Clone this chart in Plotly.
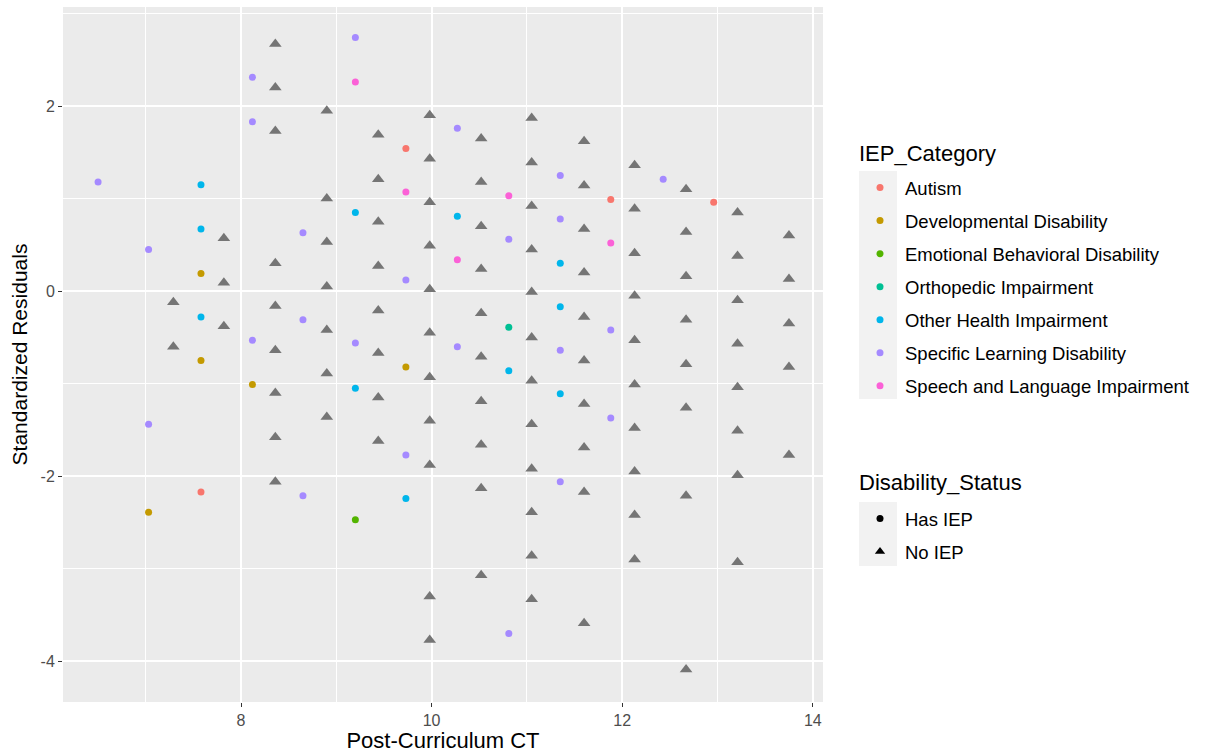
import plotly.graph_objects as go

# ---------------- data ----------------
categories = [
    "Autism", "Developmental Disability", "Emotional Behavioral Disability",
    "Orthopedic Impairment", "Other Health Impairment",
    "Specific Learning Disability", "Speech and Language Impairment",
]
cat_colors = ["#F8766D", "#C49A00", "#53B400", "#00C094", "#00B6EB", "#A58AFF", "#FB61D7"]

autism_x = [9.73, 11.88, 12.96, 7.58]
autism_y = [1.54, 0.99, 0.96, -2.17]

devdis_x = [7.58, 7.58, 8.12, 7.03, 9.73]
devdis_y = [0.19, -0.75, -1.01, -2.39, -0.82]

emot_x = [9.20]
emot_y = [-2.47]

ortho_x = [10.81]
ortho_y = [-0.39]

ohi_x = [7.58, 7.58, 7.58, 9.20, 10.27, 9.20, 10.81, 9.73, 11.35, 11.35, 11.35]
ohi_y = [1.15, 0.67, -0.28, 0.85, 0.81, -1.05, -0.86, -2.24, 0.30, -0.17, -1.11]

sld_x = [6.50, 7.03, 7.03, 8.12, 8.12, 8.12, 8.65, 8.65, 8.65, 9.20, 9.20, 9.73,
         9.73, 10.27, 10.27, 10.81, 10.81, 11.35, 11.35, 11.35, 11.35, 11.88, 11.88, 12.43]
sld_y = [1.18, 0.45, -1.44, 2.31, 1.83, -0.53, 0.63, -0.31, -2.21, 2.74, -0.56, 0.12,
         -1.77, 1.76, -0.60, 0.56, -3.70, 1.25, 0.78, -0.64, -2.06, -0.42, -1.37, 1.21]

sli_x = [9.20, 9.73, 10.81, 10.27, 11.88]
sli_y = [2.26, 1.07, 1.03, 0.34, 0.52]

cat_x = [autism_x, devdis_x, emot_x, ortho_x, ohi_x, sld_x, sli_x]
cat_y = [autism_y, devdis_y, emot_y, ortho_y, ohi_y, sld_y, sli_y]

noiep_x = ([7.29] * 2 + [7.82] * 3 + [8.36] * 9 + [8.90] * 7 + [9.44] * 8 + [9.98] * 11
           + [10.52] * 10 + [11.05] * 12 + [11.60] * 10 + [12.13] * 10 + [12.67] * 8
           + [13.21] * 8 + [13.75] * 5)
noiep_y = [-0.12, -0.60,
           0.57, 0.09, -0.38,
           2.67, 2.20, 1.73, 0.30, -0.16, -0.64, -1.10, -1.58, -2.06,
           1.95, 1.00, 0.53, 0.05, -0.42, -0.89, -1.36,
           1.69, 1.21, 0.75, 0.27, -0.21, -0.67, -1.15, -1.62,
           1.90, 1.43, 0.96, 0.49, 0.02, -0.45, -0.93, -1.40, -1.88, -3.30, -3.77,
           1.65, 1.18, 0.70, 0.24, -0.24, -0.71, -1.19, -1.66, -2.13, -3.07,
           1.87, 1.39, 0.92, 0.45, -0.01, -0.50, -0.97, -1.44, -1.92, -2.39, -2.86, -3.33,
           1.62, 1.14, 0.67, 0.20, -0.28, -0.75, -1.22, -1.69, -2.17, -3.59,
           1.36, 0.89, 0.41, -0.05, -0.53, -1.01, -1.48, -1.95, -2.42, -2.90,
           1.10, 0.64, 0.16, -0.31, -0.79, -1.26, -2.21, -4.09,
           0.85, 0.38, -0.10, -0.57, -1.04, -1.51, -1.99, -2.93,
           0.60, 0.13, -0.35, -0.82, -1.77]

status_labels = ["Has IEP", "No IEP"]
legend_titles = ["IEP_Category", "Disability_Status"]

x_ticks = [8, 10, 12, 14]
y_ticks = [-4, -2, 0, 2]

# ---------------- figure ----------------
W, H = 1211, 753
ML, MR, MT, MB = 63, 388, 7, 51
PW, PH = W - ML - MR, H - MT - MB

def px2paper(px, py):
    return (px - ML) / PW, (H - MB - py) / PH

FONT = "Liberation Sans, Arial, Helvetica, sans-serif"
fig = go.Figure()

fig.add_trace(go.Scatter(
    x=noiep_x, y=noiep_y, mode="markers", name="No IEP", showlegend=False,
    marker=dict(symbol="triangle-up", size=11, color="#757575"),
))

for i, (name, col) in enumerate(zip(categories, cat_colors)):
    fig.add_trace(go.Scatter(
        x=cat_x[i], y=cat_y[i], mode="markers", name=name,
        legend="legend", legendgroup=f"g{i}",
        marker=dict(symbol="circle", size=7, color=col),
    ))

for j, (lab, sym) in enumerate(zip(status_labels, ["circle", "triangle-up"])):
    fig.add_trace(go.Scatter(
        x=[None], y=[None], mode="markers", name=lab,
        legend="legend2", legendgroup=f"s{j}",
        marker=dict(symbol=sym, size=7 if sym == "circle" else 9, color="black"),
    ))

# legend key backgrounds (ggplot style)
shapes = []
for (y0, y1) in [(171, 399), (502, 566)]:
    x0p, y0p = px2paper(859, y1)
    x1p, y1p = px2paper(897, y0)
    shapes.append(dict(type="rect", xref="paper", yref="paper", x0=x0p, x1=x1p,
                       y0=y0p, y1=y1p, fillcolor="#F2F2F2", line=dict(width=0),
                       layer="below"))

annotations = []
for title, ty in zip(legend_titles, [153, 482]):
    ax, ay = px2paper(857, ty)
    annotations.append(dict(text=title, x=ax, y=ay, xref="paper", yref="paper",
                            xanchor="left", yanchor="middle", showarrow=False,
                            font=dict(size=22, color="black")))

lx, ly1 = px2paper(855, 169)
_, ly2 = px2paper(855, 500)

fig.update_layout(
    width=W, height=H,
    margin=dict(l=ML, r=MR, t=MT, b=MB, autoexpand=False),
    paper_bgcolor="white", plot_bgcolor="#EBEBEB",
    font=dict(family=FONT, color="black"),
    shapes=shapes, annotations=annotations,
    legend=dict(
        x=lx, y=ly1, xanchor="left", yanchor="top",
        font=dict(size=18.5, color="black"), bgcolor="rgba(0,0,0,0)",
        tracegroupgap=6, itemwidth=40, itemclick=False, itemdoubleclick=False,
    ),
    legend2=dict(
        x=lx, y=ly2, xanchor="left", yanchor="top",
        font=dict(size=18.5, color="black"), bgcolor="rgba(0,0,0,0)",
        tracegroupgap=6, itemwidth=40, itemclick=False, itemdoubleclick=False,
    ),
    xaxis=dict(
        range=[6.132, 14.107], tickvals=x_ticks, ticktext=[str(t) for t in x_ticks],
        showgrid=True, gridcolor="white", gridwidth=1.8, zeroline=False,
        minor=dict(dtick=1, tick0=0, showgrid=True, gridcolor="white", gridwidth=0.8),
        ticks="outside", ticklen=4, tickwidth=1, tickcolor="#333333",
        tickfont=dict(size=16, color="#4D4D4D"),
        title=dict(text="Post-Curriculum CT", font=dict(size=22, color="black"), standoff=4),
        showline=False,
    ),
    yaxis=dict(
        range=[-4.44, 3.07], tickvals=y_ticks, ticktext=[str(t) for t in y_ticks],
        showgrid=True, gridcolor="white", gridwidth=1.8, zeroline=False,
        minor=dict(dtick=1, tick0=0, showgrid=True, gridcolor="white", gridwidth=0.8),
        ticks="outside", ticklen=4, tickwidth=1, tickcolor="#333333",
        tickfont=dict(size=16, color="#4D4D4D"),
        title=dict(text="Standardized Residuals", font=dict(size=21, color="black"), standoff=7),
        showline=False,
    ),
)

fig.write_html("out.html", config={"displayModeBar": False},
               post_script="document.body.style.margin='0';")
